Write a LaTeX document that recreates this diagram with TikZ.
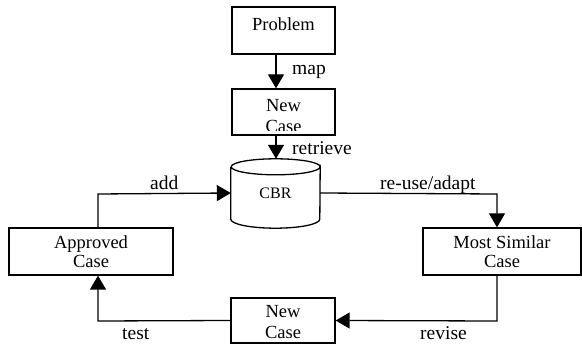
\documentclass[tikz,border=0pt]{standalone}
\usepackage{fontspec}
\setmainfont{Liberation Serif}
\usetikzlibrary{arrows.meta}
\begin{document}
\begin{tikzpicture}[x=1pt,y=-1pt,
  box/.style={draw,line width=1.3pt,inner sep=0pt},
  boxtext/.style={anchor=base,inner sep=0pt,font=\rmfamily\fontsize{18.5}{21}\selectfont},
  lbl/.style={anchor=base west,inner sep=0pt,font=\rmfamily\fontsize{19.5}{22}\selectfont},
  flow/.style={line width=1.3pt,-{Triangle[length=14pt,width=16pt]}}]
\useasboundingbox (0,0) rectangle (582,350);

% process boxes
\node[box,minimum width=103pt,minimum height=47pt] (prob) at (283.5,30.5) {};
\node[box,minimum width=103pt,minimum height=46pt] (newtop) at (283.5,112) {};
\node[box,minimum width=164pt,minimum height=47pt] (appr) at (91,251.5) {};
\node[box,minimum width=158pt,minimum height=47pt] (simi) at (502,251.5) {};
\node[box,minimum width=104pt,minimum height=45pt] (newbot) at (283,320.5) {};

% case base drawn as a cylinder around an invisible body node
\node[minimum width=89pt,minimum height=52pt,inner sep=0pt] (cbr) at (275.5,193) {};
\draw[line width=1.3pt,fill=white]
  (cbr.north west) -- (cbr.south west)
  arc[start angle=180,end angle=360,x radius=44.5pt,y radius=9pt]
  -- (cbr.north east)
  arc[start angle=0,end angle=-180,x radius=44.5pt,y radius=8pt];
\draw[line width=1.3pt]
  (cbr.north east) arc[start angle=0,end angle=180,x radius=44.5pt,y radius=8pt];
\node[inner sep=0pt,anchor=base,font=\rmfamily\fontsize{16}{18}\selectfont] (cbrtxt) at (275.5,199) {CBR};

% box texts
\node[boxtext] (tprob) at (283.5,31) {Problem};
\node[boxtext] (tnew1) at (283.5,112) {New};
\begin{scope}
  \clip (232,90) rectangle (335,131);
  \node[boxtext] (tnew2) at (283.5,132.5) {Case};
\end{scope}
\node[boxtext] (tappr1) at (91,249) {Approved};
\node[boxtext] (tappr2) at (91,268) {Case};
\node[boxtext] (tsimi1) at (502,249) {Most Similar};
\node[boxtext] (tsimi2) at (502,268) {Case};
\node[boxtext] (tnewb1) at (283,318) {New};
\node[boxtext] (tnewb2) at (283,338) {Case};

% connectors
\draw[flow] (prob.south -| 276,0) -- (newtop.north -| 276,0);
\draw[flow] (newtop.south -| 276,0) -- ([yshift=8pt]cbr.north -| 276,0);
\coordinate (addc) at (98,194);
\draw[flow] (appr.north -| addc) -- (addc) -- (cbr.west);
\coordinate (reuc) at (497,194);
\draw[flow] (cbr.east) -- (reuc) -- (simi.north -| reuc);
\coordinate (revc) at (497,321);
\draw[flow] (simi.south -| revc) -- (revc) -- (newbot.east);
\coordinate (tstc) at (98,321);
\draw[flow] (newbot.west) -- (tstc) -- (appr.south -| tstc);

% connector labels
\node[lbl] (lmap) at (292,75) {map};
\node[lbl] (lret) at (292,155) {retrieve};
\node[lbl] (ladd) at (150,190) {add};
\node[lbl] (lreu) at (380,190) {re-use/adapt};
\node[lbl] (ltst) at (122,340) {test};
\node[lbl] (lrev) at (420,340) {revise};
\end{tikzpicture}
\end{document}
